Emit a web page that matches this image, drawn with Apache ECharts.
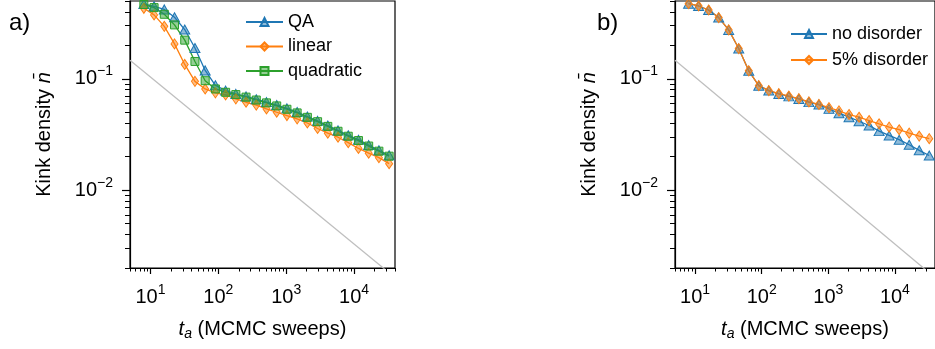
<!DOCTYPE html>
<html><head><meta charset="utf-8">
<script src="https://cdn.jsdelivr.net/npm/echarts@6/dist/echarts.min.js"></script>
<style>html,body{margin:0;padding:0;background:#fff}#c{width:935px;height:349px}</style>
</head><body><div id="c"></div>
<script>
// ---- data ----
const sweeps = [8, 11.31, 16, 22.63, 32, 45.25, 64, 90.51, 128, 181.0, 256, 362.0, 512, 724.1, 1024, 1448, 2048, 2896, 4096, 5793, 8192, 11585, 16384, 23170, 32768];
const qa        = [0.470, 0.448, 0.420, 0.357, 0.277, 0.189, 0.119, 0.0875, 0.0784, 0.0732, 0.0695, 0.0656, 0.0618, 0.0581, 0.0543, 0.0503, 0.0459, 0.0419, 0.0381, 0.0344, 0.0311, 0.0284, 0.0254, 0.0228, 0.0206];
const linear    = [0.430, 0.375, 0.296, 0.206, 0.1346, 0.0949, 0.0811, 0.0749, 0.0717, 0.0661, 0.0616, 0.0581, 0.0537, 0.0501, 0.0468, 0.0437, 0.0401, 0.0358, 0.0325, 0.0299, 0.0267, 0.0237, 0.0215, 0.0196, 0.0173];
const quadratic = [0.465, 0.436, 0.380, 0.305, 0.2225, 0.1432, 0.0962, 0.0811, 0.0757, 0.0722, 0.0685, 0.0645, 0.0608, 0.0571, 0.0533, 0.0494, 0.0451, 0.0412, 0.0374, 0.0338, 0.0305, 0.0279, 0.0249, 0.0224, 0.0202];
const noDisorder = [0.473, 0.451, 0.415, 0.355, 0.275, 0.187, 0.118, 0.0868, 0.0784, 0.0732, 0.0696, 0.0660, 0.0618, 0.0587, 0.0537, 0.0491, 0.0452, 0.0416, 0.0381, 0.0339, 0.0310, 0.0284, 0.0256, 0.0228, 0.0205];
const disorder5  = [0.473, 0.451, 0.415, 0.355, 0.275, 0.187, 0.118, 0.0868, 0.0784, 0.0735, 0.0700, 0.0663, 0.0620, 0.0589, 0.0551, 0.0515, 0.0478, 0.0452, 0.0422, 0.0394, 0.0368, 0.0349, 0.0325, 0.0306, 0.0290];
const refLineX = [5, 40000];
const refLineY = [0.147, 0.00164];
const xMajorTicks = [10, 100, 1000, 10000];
const xMinorTicks = [5,6,7,8,9, 20,30,40,50,60,70,80,90, 200,300,400,500,600,700,800,900, 2000,3000,4000,5000,6000,7000,8000,9000, 20000,30000,40000];
const yMajorTicks = [0.01, 0.1];
const yMinorTicks = [0.002,0.003,0.004,0.005,0.006,0.007,0.008,0.009, 0.02,0.03,0.04,0.05,0.06,0.07,0.08,0.09, 0.2,0.3,0.4,0.5];
const xRange = [5, 40000];
const yRange = [0.002, 0.5];

// ---- style ----
const FONT = "'Liberation Sans', Arial, sans-serif";
const C = {blue:'#1f77b4', orange:'#ff7f0e', green:'#2ca02c'};
const fill = {blue:'rgba(31,119,180,0.5)', orange:'rgba(255,127,14,0.5)', green:'rgba(44,160,44,0.5)'};
const rich = {
  b:{fontSize:20, fontFamily:FONT, color:'#000'},
  s:{fontSize:14, fontFamily:FONT, color:'#000', padding:[0,0,15,0]}
};
function powLabel(v){
  const e = Math.round(Math.log10(v));
  return '{b|10}{s|' + (e < 0 ? '\u2212' + (-e) : e) + '}';
}
const grids = [
  {left:130, top:1, width:265, height:267},
  {left:675, top:1, width:265, height:267}
];
function xAxes(gi){
  return [
    {type:'log', gridIndex:gi, min:xRange[0], max:xRange[1], position:'bottom',
     axisLine:{show:true, lineStyle:{color:'#000', width:1.2}},
     axisTick:{show:true, customValues:xMajorTicks, length:6, lineStyle:{color:'#000', width:1.2}},
     axisLabel:{show:true, customValues:xMajorTicks, formatter:powLabel, rich:rich, margin:15},
     splitLine:{show:false}, minorTick:{show:false},
     name:'{i|t}{sub|a} (MCMC sweeps)', nameLocation:'middle', nameGap:50,
     nameTextStyle:{fontSize:20, fontFamily:FONT, color:'#000',
       rich:{i:{fontSize:20, fontStyle:'italic', fontFamily:FONT, color:'#000'},
             sub:{fontSize:14, fontStyle:'italic', fontFamily:FONT, color:'#000', padding:[9,0,0,0]}}}},
    {type:'log', gridIndex:gi, min:xRange[0], max:xRange[1], position:'bottom',
     axisLine:{show:false},
     axisTick:{show:true, customValues:xMinorTicks, length:3.5, lineStyle:{color:'#000', width:1}},
     axisLabel:{show:false}, splitLine:{show:false}}
  ];
}
function yAxes(gi){
  return [
    {type:'log', gridIndex:gi, min:yRange[0], max:yRange[1], position:'left',
     axisLine:{show:true, lineStyle:{color:'#000', width:1.2}},
     axisTick:{show:true, customValues:yMajorTicks, length:8, lineStyle:{color:'#000', width:1.2}},
     axisLabel:{show:true, customValues:yMajorTicks, formatter:powLabel, rich:rich, margin:17},
     splitLine:{show:false}, minorTick:{show:false},
     name:'Kink density {i|n\u0304}', nameLocation:'middle', nameRotate:90, nameGap:76,
     nameTextStyle:{fontSize:20, fontFamily:FONT, color:'#000',
       rich:{i:{fontSize:20, fontStyle:'italic', fontFamily:FONT, color:'#000'}}}},
    {type:'log', gridIndex:gi, min:yRange[0], max:yRange[1], position:'left',
     axisLine:{show:false},
     axisTick:{show:true, customValues:yMinorTicks, length:5, lineStyle:{color:'#000', width:1}},
     axisLabel:{show:false}, splitLine:{show:false}}
  ];
}
function pairs(xs, ys){ return xs.map((x,i)=>[x, ys[i]]); }
function dataSeries(name, ys, color, symbol, size, xi, yi){
  return {type:'line', name:name, data:pairs(sweeps, ys), xAxisIndex:xi, yAxisIndex:yi,
    symbol:symbol, symbolSize:size, showSymbol:true, clip:true,
    lineStyle:{color:C[color], width:1.3},
    itemStyle:{color:fill[color], borderColor:C[color], borderWidth:1},
    emphasis:{disabled:true}};
}
function refSeries(xi, yi){
  return {type:'line', name:'ref', data:pairs(refLineX, refLineY), xAxisIndex:xi, yAxisIndex:yi,
    symbol:'none', clip:true, lineStyle:{color:'#bfbfbf', width:1.3}, z:1, emphasis:{disabled:true}};
}
const chart = echarts.init(document.getElementById('c'), null, {renderer:'canvas'});
chart.setOption({
  animation:false,
  backgroundColor:'#fff',
  textStyle:{fontFamily:FONT},
  title:[
    {text:'a)', left:9, top:11, padding:0, textStyle:{fontSize:24, fontWeight:'normal', fontFamily:FONT, color:'#000'}},
    {text:'b)', left:597, top:11, padding:0, textStyle:{fontSize:24, fontWeight:'normal', fontFamily:FONT, color:'#000'}}
  ],
  grid: grids.map(g=>Object.assign({show:true, borderColor:'#000', borderWidth:1.2, backgroundColor:'transparent'}, g)),
  xAxis: xAxes(0).concat(xAxes(1)),
  yAxis: yAxes(0).concat(yAxes(1)),
  legend:[
    {data:['QA','linear','quadratic'], orient:'vertical', left:245, top:13, padding:0, itemWidth:37, itemHeight:10, itemGap:6.5,
     textStyle:{fontSize:18, fontFamily:FONT, color:'#000'}, selectedMode:false},
    {data:['no disorder','5% disorder'], orient:'vertical', left:790, top:25, padding:0, itemWidth:36, itemHeight:10, itemGap:8,
     textStyle:{fontSize:18, fontFamily:FONT, color:'#000'}, selectedMode:false}
  ],
  series:[
    refSeries(0,0),
    dataSeries('QA', qa, 'blue', 'triangle', [10,9], 0, 0),
    dataSeries('linear', linear, 'orange', 'diamond', [7,10], 0, 0),
    dataSeries('quadratic', quadratic, 'green', 'rect', [8,8], 0, 0),
    refSeries(2,2),
    dataSeries('no disorder', noDisorder, 'blue', 'triangle', [10,9], 2, 2),
    dataSeries('5% disorder', disorder5, 'orange', 'diamond', [7,10], 2, 2)
  ]
});
</script></body></html>
